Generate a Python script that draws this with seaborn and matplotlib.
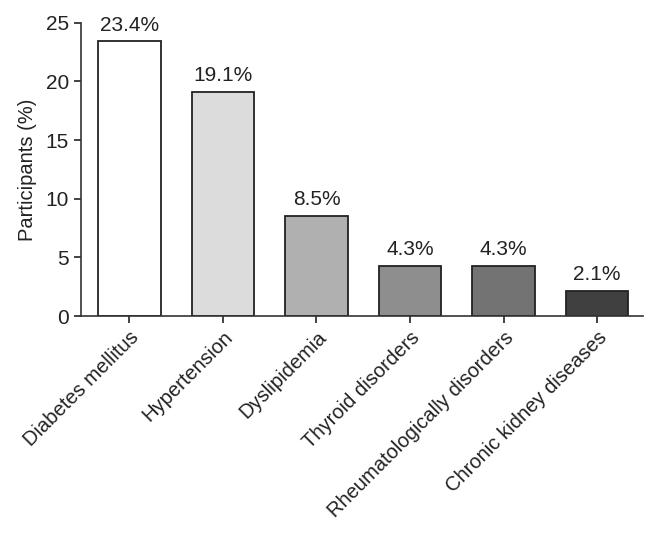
import matplotlib
matplotlib.use("Agg")
import matplotlib.pyplot as plt
import seaborn as sns
import pandas as pd

# data
conditions = ["Diabetes mellitus", "Hypertension", "Dyslipidemia",
              "Thyroid disorders", "Rheumatologically disorders",
              "Chronic kidney diseases"]
percent = [23.4, 19.1, 8.5, 4.3, 4.3, 2.1]
bar_colors = ["#ffffff", "#dcdcdc", "#b0b0b0", "#8e8e8e", "#737373", "#404040"]

df = pd.DataFrame({"condition": conditions, "percent": percent})

sns.set_style("ticks")
plt.rcParams["font.family"] = ["Liberation Sans", "DejaVu Sans"]

fig = plt.figure(figsize=(6.58, 5.37), dpi=100)
ax = fig.add_axes([0.1227, 0.4115, 0.8543, 0.5462])

sns.barplot(data=df, x="condition", y="percent", hue="condition",
            palette=bar_colors, legend=False, width=0.67,
            edgecolor="#222222", linewidth=1.3, ax=ax)

# value labels above the bars
for i, v in enumerate(percent):
    ax.annotate(f"{v}%", (i, v), xytext=(0, 5), textcoords="offset points",
                ha="center", va="bottom", fontsize=15, color="#222222")

ax.set_ylim(0, 25)
ax.set_xlim(-0.52, 5.49)
ax.set_yticks([0, 5, 10, 15, 20, 25])
ax.set_xlabel("")
ax.set_ylabel("Participants (%)", fontsize=14.5, color="#222222", labelpad=6)
ax.tick_params(axis="y", labelsize=15, length=5, width=1.2, colors="#222222")
ax.tick_params(axis="x", labelsize=14.5, length=5, width=1.2, colors="#222222")
plt.setp(ax.get_xticklabels(), rotation=45, ha="right", rotation_mode="anchor")

sns.despine(ax=ax)
for side in ["left", "bottom"]:
    ax.spines[side].set_linewidth(1.2)
    ax.spines[side].set_color("#333333")

plt.savefig("out.png", dpi=100)
